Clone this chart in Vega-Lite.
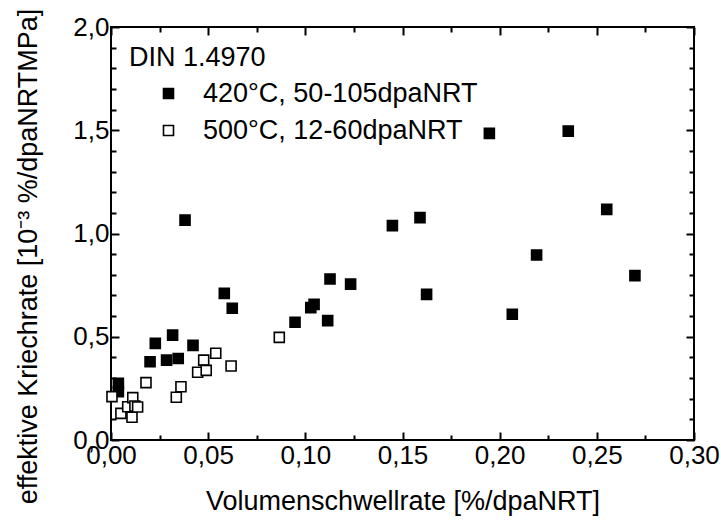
{
  "$schema": "https://vega.github.io/schema/vega-lite/v6.json",
  "width": 583,
  "height": 413,
  "autosize": {"type": "none"},
  "padding": {"left": 111, "top": 27, "right": 27, "bottom": 81},
  "background": "white",
  "config": {
    "font": "Liberation Sans",
    "view": {"stroke": "black", "strokeWidth": 2},
    "axis": {
      "domain": false, "grid": false,
      "labelFont": "Liberation Sans", "titleFont": "Liberation Sans",
      "labelFontSize": 26, "titleFontSize": 27,
      "labelColor": "black", "titleColor": "black", "titleFontWeight": "normal",
      "tickColor": "black", "tickWidth": 2
    }
  },
  "data": {"values": [
    {"x": 0.0038, "y": 0.274, "s": "420°C, 50-105dpaNRT"},
    {"x": 0.0038, "y": 0.234, "s": "420°C, 50-105dpaNRT"},
    {"x": 0.0201, "y": 0.379, "s": "420°C, 50-105dpaNRT"},
    {"x": 0.0228, "y": 0.468, "s": "420°C, 50-105dpaNRT"},
    {"x": 0.0286, "y": 0.387, "s": "420°C, 50-105dpaNRT"},
    {"x": 0.0317, "y": 0.508, "s": "420°C, 50-105dpaNRT"},
    {"x": 0.0346, "y": 0.395, "s": "420°C, 50-105dpaNRT"},
    {"x": 0.0381, "y": 1.065, "s": "420°C, 50-105dpaNRT"},
    {"x": 0.0422, "y": 0.458, "s": "420°C, 50-105dpaNRT"},
    {"x": 0.0583, "y": 0.710, "s": "420°C, 50-105dpaNRT"},
    {"x": 0.0624, "y": 0.638, "s": "420°C, 50-105dpaNRT"},
    {"x": 0.0947, "y": 0.570, "s": "420°C, 50-105dpaNRT"},
    {"x": 0.1028, "y": 0.641, "s": "420°C, 50-105dpaNRT"},
    {"x": 0.1045, "y": 0.657, "s": "420°C, 50-105dpaNRT"},
    {"x": 0.1115, "y": 0.578, "s": "420°C, 50-105dpaNRT"},
    {"x": 0.1127, "y": 0.780, "s": "420°C, 50-105dpaNRT"},
    {"x": 0.1233, "y": 0.755, "s": "420°C, 50-105dpaNRT"},
    {"x": 0.1448, "y": 1.038, "s": "420°C, 50-105dpaNRT"},
    {"x": 0.1590, "y": 1.077, "s": "420°C, 50-105dpaNRT"},
    {"x": 0.1624, "y": 0.705, "s": "420°C, 50-105dpaNRT"},
    {"x": 0.1947, "y": 1.485, "s": "420°C, 50-105dpaNRT"},
    {"x": 0.2065, "y": 0.609, "s": "420°C, 50-105dpaNRT"},
    {"x": 0.2190, "y": 0.896, "s": "420°C, 50-105dpaNRT"},
    {"x": 0.2353, "y": 1.496, "s": "420°C, 50-105dpaNRT"},
    {"x": 0.2551, "y": 1.117, "s": "420°C, 50-105dpaNRT"},
    {"x": 0.2696, "y": 0.796, "s": "420°C, 50-105dpaNRT"},
    {"x": 0.0005, "y": 0.210, "s": "500°C, 12-60dpaNRT"},
    {"x": 0.0051, "y": 0.129, "s": "500°C, 12-60dpaNRT"},
    {"x": 0.0086, "y": 0.161, "s": "500°C, 12-60dpaNRT"},
    {"x": 0.0112, "y": 0.205, "s": "500°C, 12-60dpaNRT"},
    {"x": 0.0108, "y": 0.110, "s": "500°C, 12-60dpaNRT"},
    {"x": 0.0123, "y": 0.165, "s": "500°C, 12-60dpaNRT"},
    {"x": 0.0137, "y": 0.160, "s": "500°C, 12-60dpaNRT"},
    {"x": 0.0180, "y": 0.278, "s": "500°C, 12-60dpaNRT"},
    {"x": 0.0336, "y": 0.207, "s": "500°C, 12-60dpaNRT"},
    {"x": 0.0360, "y": 0.258, "s": "500°C, 12-60dpaNRT"},
    {"x": 0.0446, "y": 0.328, "s": "500°C, 12-60dpaNRT"},
    {"x": 0.0477, "y": 0.387, "s": "500°C, 12-60dpaNRT"},
    {"x": 0.0490, "y": 0.337, "s": "500°C, 12-60dpaNRT"},
    {"x": 0.0539, "y": 0.420, "s": "500°C, 12-60dpaNRT"},
    {"x": 0.0618, "y": 0.358, "s": "500°C, 12-60dpaNRT"},
    {"x": 0.0866, "y": 0.497, "s": "500°C, 12-60dpaNRT"}
  ]},
  "layer": [
    {
      "mark": {"type": "point", "shape": "square", "filled": true, "stroke": "black", "strokeWidth": 1.6, "size": 100, "opacity": 1},
      "encoding": {
        "x": {
          "field": "x", "type": "quantitative",
          "scale": {"domain": [0, 0.3], "nice": false, "zero": false},
          "axis": {
            "orient": "bottom",
            "title": "Volumenschwellrate [%/dpaNRT]",
            "values": [0, 0.025, 0.05, 0.075, 0.1, 0.125, 0.15, 0.175, 0.2, 0.225, 0.25, 0.275, 0.3],
            "labelExpr": "abs(datum.value*20 - round(datum.value*20)) < 0.001 ? replace(format(datum.value, '.2f'), '.', ',') : ''",
            "tickSize": {"condition": {"test": "abs(datum.value*20 - round(datum.value*20)) < 0.001", "value": -8}, "value": -5},
            "labelPadding": 10,
            "labelFlush": false,
            "labelOverlap": false,
            "titlePadding": 17
          }
        },
        "y": {
          "field": "y", "type": "quantitative",
          "scale": {"domain": [0, 2], "nice": false, "zero": false},
          "axis": {
            "orient": "left",
            "title": "effektive Kriechrate [10⁻³ %/dpaNRTMPa]",
            "values": [0, 0.1, 0.2, 0.3, 0.4, 0.5, 0.6, 0.7, 0.8, 0.9, 1.0, 1.1, 1.2, 1.3, 1.4, 1.5, 1.6, 1.7, 1.8, 1.9, 2.0],
            "labelExpr": "abs(datum.value*2 - round(datum.value*2)) < 0.001 ? replace(format(datum.value, '.1f'), '.', ',') : ''",
            "tickSize": {"condition": {"test": "abs(datum.value*2 - round(datum.value*2)) < 0.001", "value": -8}, "value": -5},
            "labelPadding": 10,
            "labelFlush": false,
            "labelOverlap": false,
            "titlePadding": 30,
            "titleY": 229
          }
        },
        "fill": {
          "field": "s", "type": "nominal",
          "scale": {"domain": ["420°C, 50-105dpaNRT", "500°C, 12-60dpaNRT"], "range": ["black", "white"]},
          "legend": {
            "orient": "top-left",
            "title": "DIN 1.4970",
            "titleFont": "Liberation Sans", "titleFontSize": 27, "titleFontWeight": "normal", "titleColor": "black",
            "labelFont": "Liberation Sans", "labelFontSize": 27, "labelColor": "black",
            "symbolType": "square", "symbolSize": 100, "symbolStrokeColor": "black", "symbolStrokeWidth": 1.6,
            "offset": 18, "titlePadding": 8, "rowPadding": 9, "symbolOffset": 26, "labelOffset": 21, "labelLimit": 500
          }
        }
      }
    },
    {
      "mark": {"type": "point", "shape": "square", "opacity": 0},
      "encoding": {
        "x": {
          "field": "x", "type": "quantitative",
          "axis": {
            "orient": "top", "title": null, "labels": false,
            "values": [0, 0.025, 0.05, 0.075, 0.1, 0.125, 0.15, 0.175, 0.2, 0.225, 0.25, 0.275, 0.3],
            "tickSize": {"condition": {"test": "abs(datum.value*20 - round(datum.value*20)) < 0.001", "value": -8}, "value": -5}
          }
        },
        "y": {
          "field": "y", "type": "quantitative",
          "axis": {
            "orient": "right", "title": null, "labels": false,
            "values": [0, 0.1, 0.2, 0.3, 0.4, 0.5, 0.6, 0.7, 0.8, 0.9, 1.0, 1.1, 1.2, 1.3, 1.4, 1.5, 1.6, 1.7, 1.8, 1.9, 2.0],
            "tickSize": {"condition": {"test": "abs(datum.value*2 - round(datum.value*2)) < 0.001", "value": -8}, "value": -5}
          }
        }
      }
    }
  ],
  "resolve": {"axis": {"x": "independent", "y": "independent"}}
}
